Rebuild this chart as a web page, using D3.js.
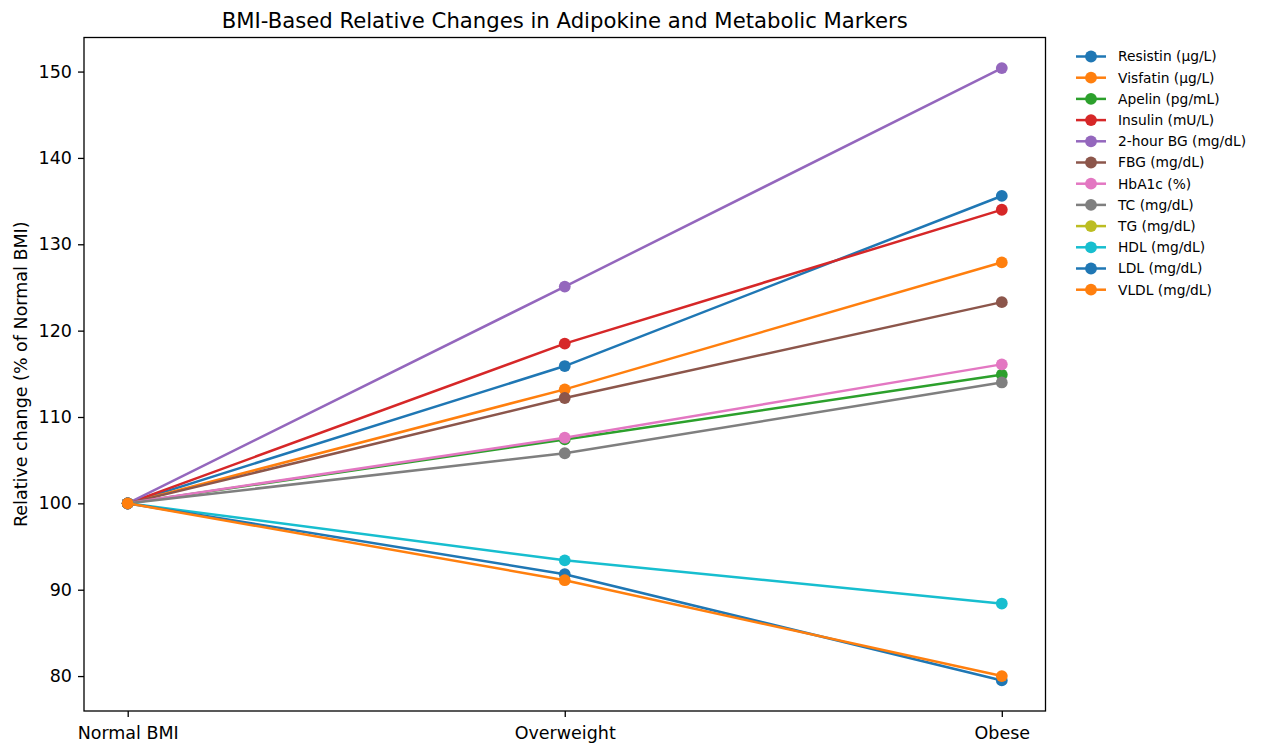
<!DOCTYPE html>
<html>
<head>
<meta charset="utf-8">
<script src="https://cdn.jsdelivr.net/npm/d3@7"></script>
<style>
  html, body { margin: 0; padding: 0; background: #fff; }
  svg { display: block; font-family: "DejaVu Sans", sans-serif; }
</style>
</head>
<body>
<svg id="chart" width="1264" height="744"></svg>
<script>
// BMI groups along the x axis
const groups = ["Normal BMI", "Overweight", "Obese"];

// Marker names, in plotting order
const markers = [
  "Resistin (μg/L)", "Visfatin (μg/L)", "Apelin (pg/mL)", "Insulin (mU/L)",
  "2-hour BG (mg/dL)", "FBG (mg/dL)", "HbA1c (%)", "TC (mg/dL)",
  "TG (mg/dL)", "HDL (mg/dL)", "LDL (mg/dL)", "VLDL (mg/dL)"
];

// Relative values (% of Normal BMI) per marker
const resistin = [100, 115.9, 135.6];
const visfatin = [100, 113.2, 127.9];
const apelin   = [100, 107.4, 114.9];
const insulin  = [100, 118.5, 134.0];
const bg2h     = [100, 125.1, 150.4];
const fbg      = [100, 112.2, 123.3];
const hba1c    = [100, 107.6, 116.1];
const tc       = [100, 105.8, 114.0];
const tg       = [null, null, null];   // not available
const hdl      = [100, 93.4, 88.4];
const ldl      = [100, 91.8, 79.5];
const vldl     = [100, 91.1, 80.0];

const seriesValues = [resistin, visfatin, apelin, insulin, bg2h, fbg, hba1c, tc, tg, hdl, ldl, vldl];

const yTicks = [80, 90, 100, 110, 120, 130, 140, 150];

const palette = ["#1f77b4", "#ff7f0e", "#2ca02c", "#d62728", "#9467bd",
                 "#8c564b", "#e377c2", "#7f7f7f", "#bcbd22", "#17becf"];

const svg = d3.select("#chart");
const plot = { left: 84, right: 1045.5, top: 37.5, bottom: 711 };

const x = d3.scalePoint().domain(groups).range([plot.left, plot.right]).padding(0.1);

const allVals = seriesValues.flat().filter(v => v != null);
const [vMin, vMax] = d3.extent(allVals);
const pad = (vMax - vMin) * 0.05;
const y = d3.scaleLinear().domain([vMin - pad, vMax + pad]).range([plot.bottom, plot.top]);

// Axes
const xAxis = svg.append("g")
  .attr("transform", `translate(0,${plot.bottom})`)
  .call(d3.axisBottom(x).tickSize(6).tickPadding(6));
const yAxis = svg.append("g")
  .attr("transform", `translate(${plot.left},0)`)
  .call(d3.axisLeft(y).tickValues(yTicks).tickSize(6).tickPadding(6));

[xAxis, yAxis].forEach(g => {
  g.select(".domain").remove();
  g.selectAll(".tick line").attr("stroke", "#000").attr("stroke-width", 1.3);
  g.selectAll(".tick text")
    .attr("fill", "#000")
    .style("font-size", "17.5px")
    .style("font-family", "DejaVu Sans, sans-serif");
});
xAxis.selectAll(".tick text").attr("dy", "0.9em");

// Series lines and markers
const line = d3.line()
  .defined(d => d.v != null)
  .x(d => x(d.g))
  .y(d => y(d.v));

const series = markers.map((name, i) => ({
  name,
  color: palette[i % palette.length],
  points: groups.map((g, j) => ({ g, v: seriesValues[i][j] }))
}));

const plotG = svg.append("g");
series.forEach(s => {
  const g = plotG.append("g");
  g.append("path")
    .datum(s.points)
    .attr("d", line)
    .attr("fill", "none")
    .attr("stroke", s.color)
    .attr("stroke-width", 2.5)
    .attr("stroke-linejoin", "round")
    .attr("stroke-linecap", "square");
  g.selectAll("circle")
    .data(s.points.filter(p => p.v != null))
    .join("circle")
    .attr("cx", d => x(d.g))
    .attr("cy", d => y(d.v))
    .attr("r", 5.9)
    .attr("fill", s.color);
});

// Frame
svg.append("rect")
  .attr("x", plot.left).attr("y", plot.top)
  .attr("width", plot.right - plot.left)
  .attr("height", plot.bottom - plot.top)
  .attr("fill", "none")
  .attr("stroke", "#000")
  .attr("stroke-width", 1.3);

// Title
svg.append("text")
  .attr("x", (plot.left + plot.right) / 2)
  .attr("y", 27.5)
  .attr("text-anchor", "middle")
  .style("font-size", "21.2px")
  .attr("fill", "#000")
  .text("BMI-Based Relative Changes in Adipokine and Metabolic Markers");

// Y axis label
svg.append("text")
  .attr("transform", `translate(27,${(plot.top + plot.bottom) / 2}) rotate(-90)`)
  .attr("text-anchor", "middle")
  .style("font-size", "17.5px")
  .attr("fill", "#000")
  .text("Relative change (% of Normal BMI)");

// Legend
const legend = svg.append("g").attr("transform", "translate(1076,56.5)");
const rowH = 21.2;
series.forEach((s, i) => {
  const row = legend.append("g").attr("transform", `translate(0,${i * rowH})`);
  row.append("line")
    .attr("x1", 0).attr("x2", 30).attr("y1", 0).attr("y2", 0)
    .attr("stroke", s.color).attr("stroke-width", 2.5);
  row.append("circle").attr("cx", 15).attr("cy", 0).attr("r", 5.9).attr("fill", s.color);
  row.append("text")
    .attr("x", 42).attr("y", 0).attr("dy", "0.36em")
    .style("font-size", "13.8px")
    .attr("fill", "#000")
    .text(s.name);
});
</script>
</body>
</html>
